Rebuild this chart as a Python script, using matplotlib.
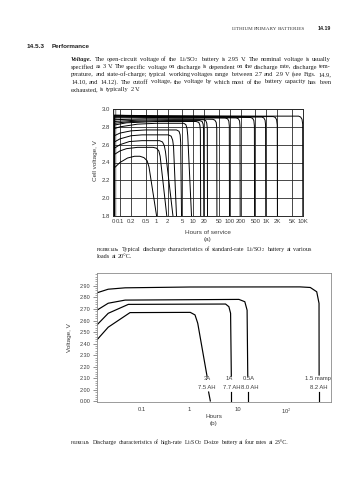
import numpy as np
import matplotlib
matplotlib.use('Agg')
import matplotlib.pyplot as plt

plt.rcParams['font.family'] = ['Liberation Sans', 'DejaVu Sans']
plt.rcParams['mathtext.fontset'] = 'stix'
plt.rcParams['hatch.linewidth'] = 0.4

#%% data, figure (a): hours of service vs cell voltage, one list of (h, V) per load
a_ticks = [0.1, 0.2, 0.5, 1, 2, 5, 10, 20, 50, 100, 200, 500, 1000, 2000, 5000, 10000]
a_ticklabels = ['0.1', '0.2', '0.5', '1', '2', '5', '10', '20', '50', '100', '200', '500',
                '1K', '2K', '5K', '10K']
a_zero = 0.0644          # hours shown as "0"
a_band = (0.0686, 0.0803)  # shaded start band
a_volts = [1.8, 2.0, 2.2, 2.4, 2.6, 2.8, 3.0]

a_1h = [(0.07, 2.34), (0.1, 2.40), (0.16, 2.45), (0.25, 2.47), (0.35, 2.47), (0.45, 2.455),
        (0.55, 2.42), (0.62, 2.35), (1.0, 1.80)]
a_2h = [(0.07, 2.49), (0.1, 2.53), (0.15, 2.555), (0.3, 2.57), (0.8, 2.57), (1.0, 2.56),
        (1.15, 2.53), (1.25, 2.47), (1.9, 1.80)]
a_3h = [(0.07, 2.56), (0.1, 2.60), (0.18, 2.635), (0.4, 2.645), (1.2, 2.645), (1.45, 2.63),
        (1.62, 2.59), (1.75, 2.52), (2.8, 1.80)]
a_4h = [(0.07, 2.63), (0.1, 2.665), (0.2, 2.70), (0.4, 2.71), (2.1, 2.71), (2.5, 2.695),
        (2.75, 2.65), (2.9, 2.58), (3.5, 1.80)]
a_5h = [(0.07, 2.70), (0.1, 2.73), (0.2, 2.755), (0.5, 2.765), (3.5, 2.765), (4.1, 2.75),
        (4.4, 2.71), (4.55, 2.62), (4.8, 1.80)]
a_9h = [(0.07, 2.78), (0.1, 2.80), (0.3, 2.83), (1, 2.84), (5.5, 2.84), (6.3, 2.825),
        (6.8, 2.78), (7.1, 2.70), (9.0, 1.80)]
a_16h = [(0.07, 2.82), (0.15, 2.845), (1, 2.86), (12, 2.86), (14.2, 2.85), (15.2, 2.82),
         (15.7, 2.76), (16, 1.80)]
a_20h = [(0.07, 2.84), (0.2, 2.86), (2, 2.87), (15, 2.87), (17.5, 2.86), (18.7, 2.83),
         (19.2, 2.77), (19.5, 1.80)]
a_25h = [(0.07, 2.86), (0.3, 2.875), (3, 2.88), (19, 2.88), (22, 2.87), (23.5, 2.84),
         (24.3, 2.78), (24.6, 1.80)]
a_45h = [(0.07, 2.88), (0.5, 2.89), (5, 2.89), (34, 2.885), (39, 2.875), (42.5, 2.85),
         (44, 2.79), (44.5, 1.80)]
a_100h = [(0.07, 2.90), (1, 2.905), (10, 2.90), (75, 2.90), (87, 2.89), (94, 2.865),
          (97, 2.81), (98, 1.80)]
a_200h = [(0.07, 2.91), (1, 2.91), (20, 2.905), (150, 2.90), (172, 2.89), (185, 2.865),
          (190, 2.81), (192, 1.80)]
a_500h = [(0.07, 2.92), (1, 2.915), (50, 2.91), (370, 2.905), (420, 2.895), (455, 2.87),
          (470, 2.81), (475, 1.80)]
a_1kh = [(0.07, 2.92), (1, 2.915), (100, 2.91), (750, 2.91), (850, 2.90), (920, 2.875),
         (950, 2.82), (960, 1.80)]
a_2kh = [(0.07, 2.93), (1, 2.92), (200, 2.915), (1550, 2.915), (1750, 2.905), (1900, 2.88),
         (1980, 2.82), (2000, 1.80)]
a_10kh = [(0.07, 2.93), (1, 2.925), (1000, 2.92), (7600, 2.92), (8600, 2.91), (9400, 2.885),
          (9800, 2.83), (9900, 1.80)]
a_curves = [a_1h, a_2h, a_3h, a_4h, a_5h, a_9h, a_16h, a_20h, a_25h, a_45h,
            a_100h, a_200h, a_500h, a_1kh, a_2kh, a_10kh]

#%% data, figure (b): D-size cell at four rates
b_3a = [(0.012, 2.434), (0.0205, 2.543), (0.058, 2.669), (1.03, 2.671), (1.29, 2.649),
        (1.47, 2.577), (2.29, 2.12)]
b_1a = [(0.012, 2.563), (0.0205, 2.663), (0.0535, 2.74), (5.55, 2.743), (6.5, 2.72),
        (7.05, 2.663), (7.3, 2.12)]
b_05a = [(0.012, 2.69), (0.0205, 2.75), (0.046, 2.777), (10.5, 2.783), (13.9, 2.763),
         (15.5, 2.69), (16.0, 2.12)]
b_15ma = [(0.012, 2.84), (0.0205, 2.871), (0.046, 2.883), (1.0, 2.89), (195, 2.891),
          (316, 2.886), (430, 2.849), (480, 2.749), (482, 2.13)]
b_curves = [b_3a, b_1a, b_05a, b_15ma]
# short pieces of each curve under the labels, running down to 0 V
b_tails = [[(2.47, 1.64), (2.68, 0.0)], [(7.3, 1.64), (7.3, 0.0)],
           [(16.4, 1.64), (16.4, 0.0)], [(485, 1.64), (485, 0.0)]]
b_rates = ['3A', '1A', '0.5A', '1.5 mamp']
b_caps = ['7.5 AH', '7.7 AH', '8.0 AH', '8.2 AH']
b_rate_h = [2.35, 6.6, 16.5, 450]
b_cap_h = [2.3, 7.3, 17.2, 480]
b_volts = [2.0, 2.1, 2.2, 2.3, 2.4, 2.5, 2.6, 2.7, 2.8, 2.9]
b_xticks = [0.1, 1, 10, 100]
b_xticklabels = ['0.1', '1', '10', '10$^2$']
b_break = 1.906   # axis position used for 0.00 V


def yb(v):
    # broken axis: everything under 2 V squeezed into the strip above the bottom
    return v if v >= 2 else b_break + v / 2 * (2 - b_break)


#%% page
W, H = 357, 480
fig = plt.figure(figsize=(W / 100, H / 100), dpi=100)
fig.patch.set_facecolor('white')

SERIF = ['Liberation Serif', 'DejaVu Serif']
SANS = ['Liberation Sans', 'DejaVu Sans']
INK = '#1e1e1e'
GREY = '#3c3c3c'
R = fig.canvas.get_renderer()


def fx(x):
    return x / W


def fy(y):
    return 1 - y / H


def words_line(parts, x0, y, x1=None, size=4.3, family=SERIF, color=INK):
    # lay words out on one baseline, spread them to x1 if given (justified)
    objs = []
    for p in parts:
        if isinstance(p, str):
            p = (p, {})
        t = fig.text(fx(x0), fy(y), p[0], ha='left', va='baseline', fontsize=size,
                     family=family, color=color, **p[1])
        objs.append(t)
    widths = [o.get_window_extent(R).width for o in objs]
    if x1 is None or len(objs) < 2:
        gap = 0.25 * size * 100 / 72
    else:
        gap = (x1 - x0 - sum(widths)) / (len(objs) - 1)
    x = x0
    for o, w in zip(objs, widths):
        o.set_x(fx(x))
        x += w + gap
    return x


def fit_text(text, x0, x1, y, size, **kw):
    # one piece of text scaled so that it runs from x0 to x1
    t = fig.text(fx(x0), fy(y), text, ha='left', va='baseline', fontsize=size, **kw)
    w = t.get_window_extent(R).width
    t.set_fontsize(size * (x1 - x0) / w)
    return t


# running head
words_line(['LITHIUM', 'PRIMARY', 'BATTERIES'], 232, 30, 305, size=3.7, color='#333')
fit_text('14.19', 318, 331, 30, 4.5, family=SANS, weight='bold', color=INK)
fit_text('14.5.3', 27, 45, 47.5, 4.4, family=SANS, weight='bold', color=INK)
fit_text('Performance', 52, 90, 47.5, 4.4, family=SANS, weight='bold', color=INK)

para = [
    [('Voltage.', {'weight': 'bold', 'style': 'italic'})] +
    'The open-circuit voltage of the Li/SO$_2$ battery is 2.95 V. The nominal voltage is usually'.split(' '),
    'specified as 3 V. The specific voltage on discharge is dependent on the discharge rate, discharge tem-'.split(' '),
    'perature, and state-of-charge; typical working voltages range between 2.7 and 2.9 V (see Figs. 14.9,'.split(' '),
    '14.10, and 14.12). The cutoff voltage, the voltage by which most of the battery capacity has been'.split(' '),
    'exhausted, is typically 2 V.'.split(' '),
]
for i, line in enumerate(para):
    y = 61 + i * 7.5
    words_line(line, 71, y, None if i == len(para) - 1 else 331, size=4.6)

#%% figure (a)
ax = fig.add_axes([fx(113), fy(216), (303 - 113) / W, (216 - 109) / H])
ax.set_xscale('log')
ax.set_xlim(a_zero, 10000)
ax.set_ylim(a_volts[0], a_volts[-1])
ax.axvspan(a_band[0], a_band[1], facecolor='#dddddd', edgecolor='#555555', hatch='||||||', lw=0)
for c in a_curves:
    hh, vv = zip(*c)
    ax.plot([a_band[0]] + list(hh), [a_volts[0]] + list(vv), color='k', lw=0.7)
ax.set_xticks([a_zero] + a_ticks)
ax.set_xticklabels(['0'] + a_ticklabels)
ax.xaxis.set_minor_locator(plt.NullLocator())
ax.set_yticks(a_volts)
ax.set_yticklabels(['%.1f' % v for v in a_volts])
ax.grid(True, color='#2a2a2a', lw=0.6)
ax.tick_params(length=0, labelsize=4.3, colors=GREY, pad=2.0)
for s in ax.spines.values():
    s.set_color('#2a2a2a')
    s.set_linewidth(0.7)
ax.set_xlabel('Hours of service', fontsize=4.6, color=GREY)
ax.xaxis.set_label_coords(0.5, (216 - 230) / (216 - 109))
ax.set_ylabel('Cell voltage, V', fontsize=4.6, color=GREY)
ax.yaxis.set_label_coords((98 - 113) / (303 - 113), 0.52)
fig.text(fx(208), fy(239), '(a)', ha='center', va='center', fontsize=4.6, color=GREY)

fit_text('FIGURE 14.9a', 97, 118, 251, 3.4, family=SERIF, weight='bold', color=INK)
words_line('Typical discharge characteristics of standard-rate Li/SO$_2$ battery at various'.split(' '),
           122, 251, 311, size=4.4)
words_line('loads at 20°C.'.split(' '), 97, 258, size=4.4)

#%% figure (b)
bx = fig.add_axes([fx(97), fy(402), (331 - 97) / W, (402 - 273) / H])
bx.set_xscale('log')
bx.set_xlim(0.012, 850)
bx.set_ylim(1.897, 3.011)
for c in b_curves:
    hh, vv = zip(*c)
    bx.plot(hh, [yb(v) for v in vv], color='k', lw=0.85)
for c in b_tails:
    hh, vv = zip(*c)
    bx.plot(hh, [yb(v) for v in vv], color='k', lw=0.85)
for rate, cap, h1, h2 in zip(b_rates, b_caps, b_rate_h, b_cap_h):
    bx.text(h1, 2.097, rate, ha='center', va='center', fontsize=4.2, color=GREY)
    bx.text(h2, 2.02, cap, ha='center', va='center', fontsize=4.2, color=GREY)
bx.set_yticks([b_break] + b_volts)
bx.set_yticklabels(['0.00'] + ['%.2f' % v for v in b_volts])
bx.yaxis.set_minor_locator(plt.FixedLocator(np.arange(1.92, 3.005, 0.02)))
bx.set_xticks(b_xticks)
bx.set_xticklabels(b_xticklabels)
bx.xaxis.set_minor_locator(plt.NullLocator())
bx.tick_params(axis='y', which='major', length=3, width=0.5, colors='#666666',
               labelcolor=GREY, labelsize=4.0, pad=1.5)
bx.tick_params(axis='y', which='minor', length=1.8, width=0.4, colors='#666666')
bx.tick_params(axis='x', length=0, labelsize=4.2, labelcolor=GREY, pad=3.5)
for s in bx.spines.values():
    s.set_color('#8a8a8a')
    s.set_linewidth(0.6)
bx.set_xlabel('Hours', fontsize=4.6, color=GREY)
bx.xaxis.set_label_coords((214 - 97) / (331 - 97), (402 - 414) / (402 - 273))
bx.set_ylabel('Voltage, V', fontsize=4.6, color=GREY)
bx.yaxis.set_label_coords((72 - 97) / (331 - 97), 0.5)
fig.text(fx(214), fy(424), '(b)', ha='center', va='center', fontsize=4.6, color=GREY)

fit_text('FIGURE 14.9b', 71, 89, 444, 3.4, family=SERIF, weight='bold', color=INK)
words_line('Discharge characteristics of high-rate Li/SO$_2$ D-size battery at four rates at 23°C.'.split(' '),
           93, 444, 288, size=4.2)

fig.savefig('out.png', dpi=100)
